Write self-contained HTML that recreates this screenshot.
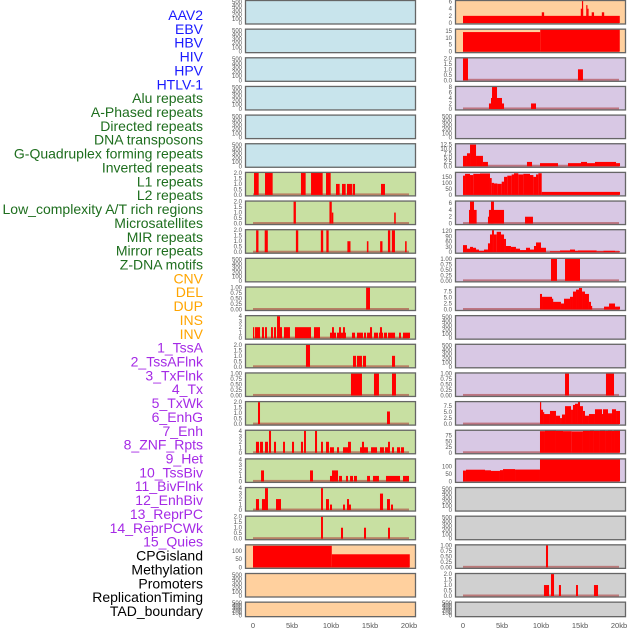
<!DOCTYPE html>
<html><head><meta charset="utf-8"><style>
body{margin:0;background:#fff;}
svg{display:block;font-family:"Liberation Sans",sans-serif;}
</style></head><body>
<svg id="chart" width="630" height="630" viewBox="0 0 630 630"></svg>
<script>
// ---- labels ----
const labelNames = ["AAV2","EBV","HBV","HIV","HPV","HTLV-1","Alu repeats","A-Phased repeats","Directed repeats","DNA transposons","G-Quadruplex forming repeats","Inverted repeats","L1 repeats","L2 repeats","Low_complexity A/T rich regions","Microsatellites","MIR repeats","Mirror repeats","Z-DNA motifs","CNV","DEL","DUP","INS","INV","1_TssA","2_TssAFlnk","3_TxFlnk","4_Tx","5_TxWk","6_EnhG","7_Enh","8_ZNF_Rpts","9_Het","10_TssBiv","11_BivFlnk","12_EnhBiv","13_ReprPC","14_ReprPCWk","15_Quies","CPGisland","Methylation","Promoters","ReplicationTiming","TAD_boundary"];
const labelGroups = [6,13,5,15,5];
const groupColors = ["#1a1aff","#1e6e1e","#ffa500","#a52ae6","#000000"];
const xTicks = [0,5,10,15,20];
const xTickLabels = ["0","5kb","10kb","15kb","20kb"];

// ---- left column data: [startKb,endKb,value] ----
const leftRow6 = [[0.13,0.73,2],[1.54,2.52,2],[6.15,6.75,2],[7.44,8.93,2],[9.36,9.96,2],[10.64,11.11,1],[11.41,11.88,1],[12.05,12.69,1],[12.78,13.08,1],[16.41,16.92,1]];
const leftRow7 = [[5.2,5.5,2],[9.8,10.1,2],[10.1,10.3,1],[18.1,18.3,1]];
const leftRow8 = [[0.4,0.7,2],[1.5,1.9,2],[5.5,5.8,2],[8.7,9.0,2],[9.4,9.7,2],[12.1,12.5,1],[14.6,14.8,1],[16.3,16.6,1],[17.3,17.6,2],[17.8,18.2,2],[19.5,19.7,1]];
const leftRow10 = [[14.5,15.0,1]];
const leftRow11 = [[0,0.13,2],[0.26,0.9,2],[1.15,1.41,2],[1.54,1.79,2],[2.31,2.56,2],[2.69,2.95,2],[3.08,3.46,4],[3.46,3.72,2],[3.97,4.74,2],[5.38,7.44,2],[7.82,8.59,2],[9.87,10.64,1],[10.13,10.38,2],[10.77,11.92,1],[11.03,11.28,2],[11.54,11.79,2],[12.69,13.08,1],[13.33,14.1,1],[14.23,14.49,1],[14.62,15.26,1],[15.0,15.26,2],[15.51,16.03,1],[16.15,16.67,1],[16.28,16.54,2],[16.79,17.18,1],[17.31,18.21,1],[18.72,18.97,1],[19.23,20.13,1]];
const leftRow12 = [[6.79,7.31,2],[12.82,13.21,1],[13.33,13.97,1],[14.1,14.49,1],[17.82,18.21,1]];
const leftRow13 = [[12.56,13.97,1],[15.51,16.15,1],[17.82,18.33,1]];
const leftRow14 = [[0.64,0.9,2],[17.18,17.56,1.15]];
const leftRow15 = [[0.38,0.77,2],[0.9,1.28,2],[1.54,1.92,2],[2.05,2.31,4],[2.69,2.95,2],[3.85,4.1,2],[5.0,5.26,2],[6.15,6.41,2],[6.54,6.79,4],[7.95,8.21,4],[8.72,8.97,2],[9.36,9.74,2],[9.87,10.38,1],[10.77,11.03,1],[11.54,12.31,1],[12.18,12.56,2],[13.72,14.74,1],[13.97,14.23,2],[15.13,15.9,1],[16.28,16.79,1],[16.92,17.44,1],[17.31,17.56,2],[17.82,18.08,1],[18.46,18.85,1],[18.97,19.36,1]];
const leftRow16 = [[1.03,1.41,2],[7.31,7.69,2],[9.87,10.38,1],[10.13,10.9,2],[11.03,11.41,1],[11.92,12.18,1],[12.44,12.82,1],[12.95,13.33,1],[14.62,15.0,1],[15.38,16.15,1],[17.05,18.85,1],[19.23,20.0,1]];
const leftRow17 = [[0.38,0.77,2],[1.15,1.54,2],[1.54,1.92,4],[2.95,3.59,2],[8.72,8.97,4],[9.36,9.74,2],[9.87,10.13,1],[11.54,11.79,1],[12.05,12.31,2],[12.18,12.56,1],[16.28,16.67,3],[17.18,17.56,2],[17.69,17.95,1]];
const leftRow18 = [[8.72,8.97,2],[11.28,11.54,1],[14.23,14.49,1],[17.31,17.56,1]];
const leftRow19 = [[0,10.1,130],[10.1,20.1,79]];

// ---- right column data ----
const rightRow0 = [[0,20.1,2],[10.1,10.4,3],[15.1,15.4,4],[15.25,15.4,6.3],[15.8,15.95,5],[15.95,16.1,4],[16.5,16.8,3],[17.8,18.1,3]];
const rightRow1 = [[0,9.9,14.1],[9.9,20.1,16.2]];
const rightRow2 = [[0,0.64,2],[14.74,15.38,1]];
const rightRow3 = [[3.33,5.26,2],[3.59,5.0,4],[3.72,4.36,8],[8.72,9.36,2]];
const rightRow5 = [[0,0.51,6],[0.51,0.9,7.5],[0.9,1.67,12.5],[1.67,2.56,6],[2.56,3.2,2.5],[8.2,8.85,2.5],[9.87,12.18,1.8],[13.46,15.13,1.8],[15.13,15.9,2.5],[15.9,16.92,1.8],[16.92,19.62,2.5],[19.62,20.13,1.8]];
const rightRow6 = [[0,0.26,160],[0.26,0.9,175],[0.9,1.32,165],[1.32,2.18,175],[2.18,3.46,178],[3.46,3.68,140],[3.68,3.97,100],[3.97,4.4,95],[4.4,4.96,92],[4.96,5.26,110],[5.26,5.68,150],[5.68,6.24,160],[6.24,6.54,170],[6.54,7.09,180],[7.09,7.74,170],[7.74,8.59,175],[8.59,9.02,165],[9.02,9.36,150],[9.36,9.66,170],[9.66,10.09,180],[10.09,20.13,25]];
const rightRow7 = [[0.77,1.75,4],[0.9,1.41,6.5],[3.2,3.85,2],[3.33,5.26,4],[3.59,3.97,6.5],[7.95,8.97,2]];
const rightRow8 = [[0,0.51,40],[0.51,0.9,20],[0.9,1.28,30],[1.28,1.67,25],[1.67,2.05,15],[2.05,2.69,8],[2.69,3.2,15],[3.2,3.46,50],[3.46,3.72,100],[3.72,3.97,125],[3.97,4.32,100],[4.32,4.87,115],[4.87,5.26,100],[5.26,5.51,75],[5.51,6.15,35],[6.15,6.79,30],[6.79,7.31,20],[7.31,8.08,12],[8.08,8.59,25],[8.59,9.1,15],[9.1,9.36,35],[9.36,10.0,55],[10.0,10.64,25],[11.15,12.44,5],[12.44,13.72,10],[13.72,14.36,15],[14.36,14.74,8],[14.74,17.13,10],[17.13,18.0,5],[18.0,19.49,8],[19.49,20.13,5]];
const rightRow9 = [[11.28,12.05,1],[13.08,15.0,1]];
const rightRow10 = [[9.87,10.13,6.5],[10.13,11.41,5.3],[11.41,11.54,4.5],[11.54,12.56,3.2],[12.56,12.95,2.5],[12.95,13.72,4.5],[13.72,14.1,5.3],[14.1,14.49,7.5],[14.49,14.87,8.3],[14.87,15.26,9],[15.26,15.64,7.5],[15.64,16.15,6.5],[16.15,16.41,3.2],[16.41,16.54,1.5],[18.08,18.72,1.2],[18.72,19.49,2.5],[19.49,20.13,1.2]];
const rightRow13 = [[13.08,13.59,1],[18.33,19.36,1]];
const rightRow14 = [[9.87,10.0,9.5],[10.0,10.26,6],[10.26,10.38,5],[10.38,11.15,4.2],[11.15,11.92,5.5],[11.92,12.44,3.5],[12.44,12.69,2.5],[12.69,13.08,4],[13.08,13.85,7.5],[13.85,14.1,6],[14.1,14.36,8],[14.36,14.74,8.5],[14.74,15.0,9.5],[15.0,15.38,7.5],[15.38,15.64,5.5],[15.64,16.15,3.5],[16.15,16.92,4.2],[16.92,17.82,6.2],[17.82,17.95,4.2],[17.95,18.59,6.2],[18.59,19.1,4.5],[19.1,19.62,6.2],[19.62,20.13,5.5]];
const rightRow15 = [[9.87,10.51,95],[10.51,11.92,98],[11.92,12.82,96],[12.82,13.93,95],[13.93,15.38,94],[15.38,16.28,96],[16.28,16.79,98],[16.79,17.56,96],[17.56,18.21,98],[18.21,18.59,96],[18.59,19.1,98],[19.1,19.36,96],[19.36,20.13,98]];
const rightRow16 = [[0,0.38,72],[0.38,2.82,78],[2.82,3.59,74],[3.59,4.74,70],[4.74,5.13,75],[5.13,6.67,82],[6.67,9.87,79],[9.87,20.13,150]];
const rightRow19 = [[10.64,10.9,1]];
const rightRow20 = [[10.38,11.03,1],[11.28,11.67,2],[12.3,12.56,1],[14.49,14.74,1],[16.79,17.31,1]];

// ---- y-axis ranges and ticks per row ----
const emptyTicks = [0,100,200,300,400,500];
const leftYMax = [530,530,530,530,530,530,2.05,2.05,2.05,530,1.03,4.1,2.05,1.03,2.05,4.1,4.1,4.1,2.05,136,530,530];
const leftYTicks = [emptyTicks,emptyTicks,emptyTicks,emptyTicks,emptyTicks,emptyTicks,[0,0.5,1,1.5,2],[0,0.5,1,1.5,2],[0,0.5,1,1.5,2],emptyTicks,[0,0.25,0.5,0.75,1],[0,1,2,3,4],[0,0.5,1,1.5,2],[0,0.25,0.5,0.75,1],[0,0.5,1,1.5,2],[0,1,2,3,4],[0,1,2,3,4],[0,1,2,3,4],[0,0.5,1,1.5,2],[0,50,100],emptyTicks,emptyTicks];
const leftData = [null,null,null,null,null,null,leftRow6,leftRow7,leftRow8,null,leftRow10,leftRow11,leftRow12,leftRow13,leftRow14,leftRow15,leftRow16,leftRow17,leftRow18,leftRow19,null,null];
const rightYMax = [6.3,16.2,2.05,8.2,530,13,187,6.6,127,1.03,9.4,530,530,1.03,9.4,99,150,530,530,1.03,2.05,530];
const rightYTicks = [[0,2,4,6],[0,5,10,15],[0,0.5,1,1.5,2],[0,2,4,6,8],emptyTicks,[0,2.5,5,7.5,10,12.5],[0,50,100,150],[0,2,4,6],[0,30,60,90,120],[0,0.25,0.5,0.75,1],[0,2.5,5,7.5],emptyTicks,emptyTicks,[0,0.25,0.5,0.75,1],[0,2.5,5,7.5],[0,25,50,75],[0,50,100],emptyTicks,emptyTicks,[0,0.25,0.5,0.75,1],[0,0.5,1,1.5,2],emptyTicks];
const rightData = [rightRow0,rightRow1,rightRow2,rightRow3,null,rightRow5,rightRow6,rightRow7,rightRow8,rightRow9,rightRow10,null,null,rightRow13,rightRow14,rightRow15,rightRow16,null,null,rightRow19,rightRow20,null];

const NS="http://www.w3.org/2000/svg";
const svg=document.getElementById('chart');
function mk(tag,attrs,parent){const e=document.createElementNS(NS,tag);for(const k in attrs)e.setAttribute(k,attrs[k]);(parent||svg).appendChild(e);return e;}

const leftBg=i=>i<6?"#c8e4ec":(i<19?"#c8e0a2":"#ffd09e");
const rightBg=i=>i<2?"#ffd09e":(i<17?"#d8c8e4":"#d0d0d0");
function fmt(v,ticks){const dec=ticks.some(t=>Math.round(t*100)%100!==0)?(ticks.some(t=>Math.round(t*100)%50!==0&&Math.round(t*100)%100!==0)&&ticks.includes(0.25)?2:1):0;return v.toFixed(ticks.includes(0.25)?2:(ticks.includes(2.5)||ticks.includes(0.5)?1:0));}

function drawPanel(col,i,x0,bg,ymax,ticks,data){
  const top=i*28.65, h=(i===21)?15.5:24.5;
  const x1=x0+171;
  const xs=kb=>x0+8+kb*7.8;
  const ys=v=>top+h-1.5-(v/ymax)*(h-2);
  const g=mk('g',{});
  
  
  mk('rect',{x:x0,y:top,width:171,height:h,fill:bg},g);
  if(data){
    mk('rect',{x:xs(0),y:ys(0)-1.5,width:xs(20)-xs(0),height:2,fill:"rgba(170,50,50,0.55)"},g);
    data.forEach(d=>{
      const r=mk('rect',{x:xs(d[0]),y:ys(d[2]),width:Math.max(1.2,xs(d[1])-xs(d[0])),height:ys(0)-ys(d[2]),fill:"#ff0000"},g);
      
      
    });
  }
  mk('rect',{x:x0+0.5,y:top+0.5,width:170,height:h-1,fill:"none",stroke:"#666",'stroke-width':1.3},g);
  ticks.forEach(t=>{
    const tx=mk('text',{x:x0-3,y:ys(t)+2,'font-size':6,fill:"#555",'text-anchor':'end'},g);
    tx.textContent=fmt(t,ticks);
    
    
  });
}
for(let i=0;i<22;i++){
  drawPanel('left',i,245,leftBg(i),leftYMax[i],leftYTicks[i],leftData[i]);
  drawPanel('right',i,455,rightBg(i),rightYMax[i],rightYTicks[i],rightData[i]);
}
// x ticks
[253,463].forEach((base,c)=>{
  xTicks.forEach((k,j)=>{
    const t=mk('text',{x:base+k*7.8,y:628,'font-size':7.5,fill:"#555",'text-anchor':'middle'});
    t.textContent=xTickLabels[j];
    
    
  });
});
// labels
let gi=0,cnt=0;
labelNames.forEach((n,i)=>{
  if(cnt>=labelGroups[gi]){gi++;cnt=0;}
  cnt++;
  const t=mk('text',{x:203,y:15+i*13.86+5,'font-size':14,fill:groupColors[gi],'text-anchor':'end'});
  t.textContent=n;
  
  
});
</script>
</body></html>
